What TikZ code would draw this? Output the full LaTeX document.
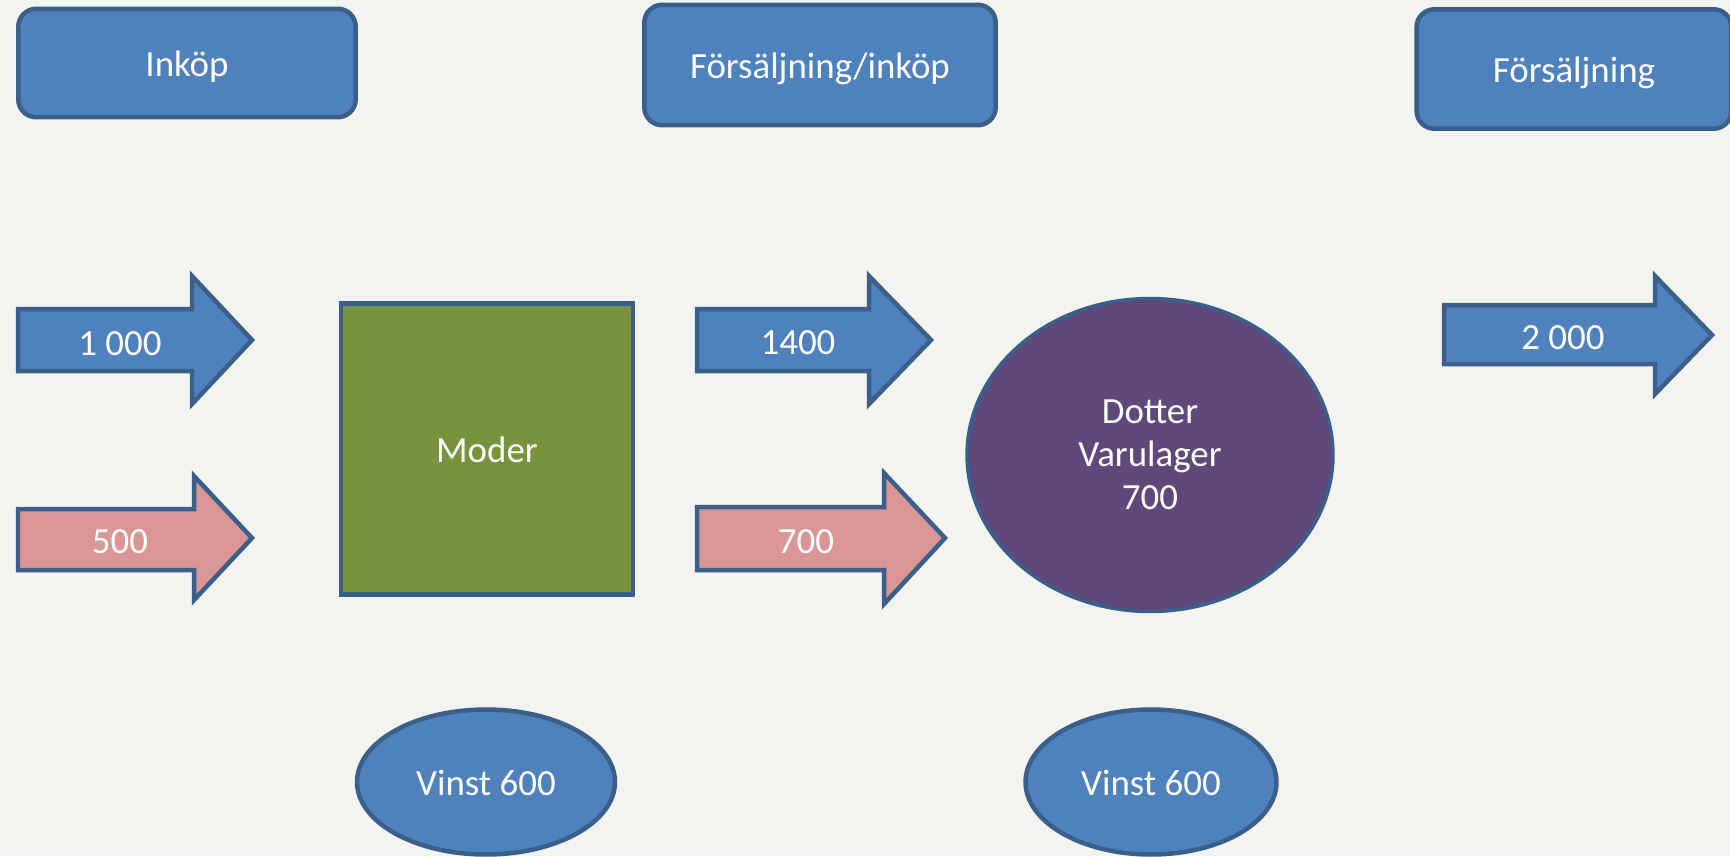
\documentclass[tikz,border=0pt]{standalone}
\usepackage{fontspec}
\setmainfont{Carlito}
\usetikzlibrary{shapes.geometric}
\definecolor{paper}{HTML}{F3F3EF}
\definecolor{boxblue}{HTML}{4F81BD}
\definecolor{edgeblue}{HTML}{3A5F8B}
\definecolor{rosefill}{HTML}{D99694}
\definecolor{mossgreen}{HTML}{77933C}
\definecolor{plum}{HTML}{5F497A}
\begin{document}
\begin{tikzpicture}[x=0.02cm, y=-0.02cm,
      every node/.style={font=\fontsize{21}{24.5}\selectfont, text=white},
      outline/.style={draw=edgeblue, line width=0.09cm},
      oneline/.style={text height=15pt, text depth=0pt},
      headbox/.style={outline, oneline, fill=boxblue, rounded corners=0.36cm},
      profit/.style={outline, oneline, ellipse, fill=boxblue}]
      \fill[paper] (0,0) rectangle (1730,856);
      \useasboundingbox (0,0) rectangle (1730,856);
      \node[headbox, minimum width=6.75cm, minimum height=2.17cm] (inkop) at (187,63) {Inköp};
      \node[headbox, minimum width=7.03cm, minimum height=2.41cm] (forsinkop) at (820,65) {Försäljning/inköp};
      \node[headbox, minimum width=6.3cm, minimum height=2.39cm] (fors) at (1574,69) {Försäljning};
      \draw[outline, fill=boxblue] (18,309) -- (192,309) -- (192,276) -- (252,340) -- (192,404) -- (192,371) -- (18,371) -- cycle;
      \node[oneline] (in1000) at (120,342) {1 000};
      \draw[outline, fill=rosefill] (18,509) -- (194,509) -- (194,476) -- (252,538) -- (194,600) -- (194,570) -- (18,570) -- cycle;
      \node[oneline] (in500) at (120,540) {500};
      \node[outline, oneline, fill=mossgreen, minimum width=5.84cm, minimum height=5.82cm] (moder) at (487,449) {Moder};
      \draw[outline, fill=boxblue] (697,309) -- (869,309) -- (869,276) -- (931,340) -- (869,404) -- (869,371) -- (697,371) -- cycle;
      \node[oneline] (ut1400) at (798,341) {1400};
      \draw[outline, fill=rosefill] (697,507) -- (884,507) -- (884,473) -- (945,538) -- (884,604) -- (884,570) -- (697,570) -- cycle;
      \node[oneline] (ut700) at (806,540) {700};
      \node[draw=edgeblue, line width=0.07cm, ellipse, fill=plum, align=center, minimum width=7.32cm, minimum height=6.26cm] (dotter) at (1150,455) {Dotter\\Varulager\\700};
      \draw[outline, fill=boxblue] (1444,305) -- (1655,305) -- (1655,276) -- (1712,335) -- (1655,394) -- (1655,364) -- (1444,364) -- cycle;
      \node[oneline] (ut2000) at (1563,336) {2 000};
      \node[profit, minimum width=5.16cm, minimum height=2.9cm] (vinstmoder) at (486,782) {Vinst 600};
      \node[profit, minimum width=5.02cm, minimum height=2.9cm] (vinstdotter) at (1151,782) {Vinst 600};
\end{tikzpicture}
\end{document}
